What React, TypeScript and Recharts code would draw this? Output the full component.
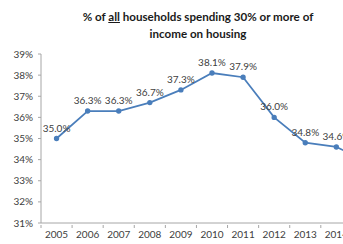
import { LineChart, Line, XAxis, YAxis, LabelList } from "recharts";

const years = ["2005", "2006", "2007", "2008", "2009", "2010", "2011", "2012", "2013", "2014", "2015"];
const shares = [35.0, 36.3, 36.3, 36.7, 37.3, 38.1, 37.9, 36.0, 34.8, 34.6, 33.9];
const yTicks = [31, 32, 33, 34, 35, 36, 37, 38, 39];

const data = years.map((year, i) => ({ year, share: shares[i] }));

const FONT = "Lato, 'Open Sans', sans-serif";
const HALF_BAND = 15.55;

const YearTick = (props: any) => {
  const { x, y, payload, index } = props;
  return (
    <g>
      <line x1={x - HALF_BAND} y1={y} x2={x - HALF_BAND} y2={y + 3} stroke="#a6a6a6" />
      {index === years.length - 1 && (
        <line x1={x + HALF_BAND} y1={y} x2={x + HALF_BAND} y2={y + 3} stroke="#a6a6a6" />
      )}
      <text x={x} y={y + 13} textAnchor="middle" fontSize={10} fill="#404040" fontFamily={FONT}>
        {payload.value}
      </text>
    </g>
  );
};

const App = () => {
  return (
    <div
      style={{
        position: "fixed",
        left: 0,
        top: 0,
        width: 343,
        height: 244,
        overflow: "hidden",
        background: "#fff",
        fontFamily: FONT,
      }}
    >
      <div
        style={{
          position: "absolute",
          left: 40,
          width: 316,
          top: 8,
          textAlign: "center",
          fontWeight: "bold",
          fontSize: 11.6,
          lineHeight: "17px",
          color: "#1a1a1a",
        }}
      >
        % of <u>all</u> households spending 30% or more of
        <br />
        income on housing
      </div>
      <LineChart width={390} height={244} data={data} margin={{ top: 54, right: 7, bottom: 0, left: 0 }}>
        <XAxis
          dataKey="year"
          tick={<YearTick />}
          tickLine={false}
          tickSize={0}
          interval={0}
          height={21}
          padding={{ left: 15.55, right: 15.55 }}
          stroke="#a6a6a6"
        />
        <YAxis
          domain={[31, 39]}
          ticks={yTicks}
          width={41}
          tickSize={3}
          tickMargin={5}
          tickFormatter={(v: number) => `${v}%`}
          tick={{ fontSize: 10, fill: "#404040", fontFamily: FONT }}
          stroke="#a6a6a6"
        />
        <Line
          type="linear"
          dataKey="share"
          stroke="#4a7ebb"
          strokeWidth={1.75}
          dot={{ r: 1.8, fill: "#4a7ebb", stroke: "#4a7ebb" }}
          isAnimationActive={false}
        >
          <LabelList
            dataKey="share"
            position="top"
            offset={7}
            formatter={(v: any) => `${Number(v).toFixed(1)}%`}
            style={{ fontSize: 10, fill: "#404040", fontFamily: FONT }}
          />
        </Line>
      </LineChart>
    </div>
  );
};

export default App;
